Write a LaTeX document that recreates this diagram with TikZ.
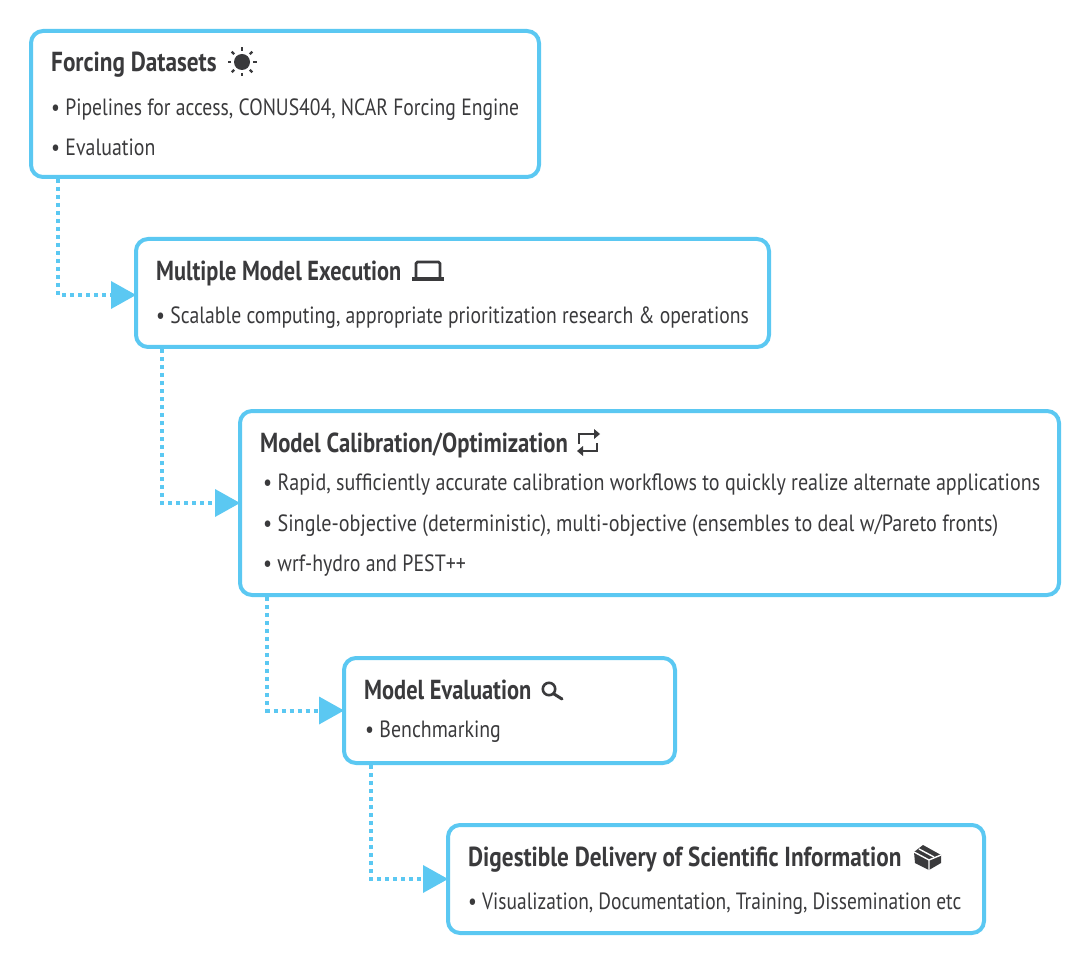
\documentclass[tikz,border=0pt]{standalone}
\usepackage{fontspec}
\setmainfont[FakeStretch=0.845]{PT Sans}
\usetikzlibrary{arrows.meta}
\definecolor{boxblue}{HTML}{5BC8F2}
\definecolor{inkgray}{HTML}{3A3A3C}
\tikzset{
    stagebox/.style={draw=boxblue, line width=4pt, rounded corners=12pt, fill=white, inner sep=0pt, anchor=north west},
    headtext/.style={anchor=base west, inner sep=0pt, text=inkgray, font=\fontsize{27.5}{30}\selectfont\bfseries},
    itemtext/.style={anchor=base west, inner sep=0pt, text=inkgray, font=\fontsize{23.5}{27}\selectfont},
    linkline/.style={draw=boxblue, line width=4pt, dash pattern=on 4pt off 4pt, -{Triangle[length=25pt,width=28pt,fill=boxblue,line width=0pt]}},
    iconline/.style={draw=inkgray, line width=2.6pt}
}

\begin{document}
\begin{tikzpicture}[x=1pt, y=-1pt]
    \useasboundingbox (0,0) rectangle (1092,965);

    % The five stages, each one stepping to the right
    \node[stagebox, minimum width=508pt, minimum height=146pt] (forcing) at (29,29) {};
    \node[stagebox, minimum width=633pt, minimum height=108pt] (execution) at (134,237) {};
    \node[stagebox, minimum width=819pt, minimum height=184pt] (calibration) at (238,409) {};
    \node[stagebox, minimum width=331pt, minimum height=105pt] (evaluation) at (342,656) {};
    \node[stagebox, minimum width=536pt, minimum height=108pt] (delivery) at (446,823) {};

    % Forcing Datasets
    \node[headtext] (forcinghead) at (51,72) {Forcing Datasets};
    \node[itemtext] (forcingone) at (51,116) {\scalebox{0.989}[1]{• Pipelines for access, CONUS404, NCAR Forcing Engine}};
    \node[itemtext] (forcingtwo) at (51,156) {• Evaluation};

    % Multiple Model Execution
    \node[headtext] (executionhead) at (156,281) {\scalebox{0.961}[1]{Multiple Model Execution}};
    \node[itemtext] (executionone) at (156,324) {\scalebox{0.991}[1]{• Scalable computing, appropriate prioritization research \& operations}};

    % Model Calibration/Optimization
    \node[headtext] (calibrationhead) at (260,452) {\scalebox{0.975}[1]{Model Calibration/Optimization}};
    \node[itemtext] (calibrationone) at (263,490) {\scalebox{1.01}[1]{• Rapid, sufficiently accurate calibration workflows to quickly realize alternate applications}};
    \node[itemtext] (calibrationtwo) at (263,531) {\scalebox{1.014}[1]{• Single-objective (deterministic), multi-objective (ensembles to deal w/Pareto fronts)}};
    \node[itemtext] (calibrationthree) at (263,571) {• wrf-hydro and PEST++};

    % Model Evaluation
    \node[headtext] (evaluationhead) at (364,699) {\scalebox{0.965}[1]{Model Evaluation}};
    \node[itemtext] (evaluationone) at (365,737) {• Benchmarking};

    % Digestible Delivery of Scientific Information
    \node[headtext] (deliveryhead) at (468,866) {Digestible Delivery of Scientific Information};
    \node[itemtext] (deliveryone) at (468,909) {\scalebox{0.98}[1]{• Visualization, Documentation, Training, Dissemination etc}};

    % Dotted links: down out of one box, right into the next
    \draw[linkline] ([xshift=29pt]forcing.south west) |- ([shift={(2pt,-2pt)}]execution.west);
    \draw[linkline] ([xshift=28pt]execution.south west) |- ([shift={(2pt,0pt)}]calibration.west);
    \draw[linkline] ([xshift=29pt]calibration.south west) |- ([shift={(2pt,0pt)}]evaluation.west);
    \draw[linkline] ([xshift=29pt]evaluation.south west) |- ([shift={(2pt,0pt)}]delivery.west);

    % Sun
    \fill[inkgray] (242,62) circle (8pt);
    \foreach \angle in {0,45,...,315}
        \draw[iconline, line width=2.4pt] (242,62) ++(\angle:11) -- ++(\angle:3.5);

    % Laptop
    \draw[iconline, rounded corners=1.5pt] (416,278) -- (416,262) -- (440,262) -- (440,278);
    \fill[inkgray] (412,277) rectangle (444,281);

    % Swap arrows
    \draw[iconline] (579,444) -- (579,434) -- (595,434);
    \fill[inkgray] (594,429) -- (600,434) -- (594,439) -- cycle;
    \draw[iconline] (597,443) -- (597,451) -- (582,451);
    \fill[inkgray] (583,446) -- (577,451) -- (583,456) -- cycle;

    % Magnifier
    \draw[iconline] (549,689) circle (6.2pt);
    \draw[iconline, line width=3pt, line cap=round] (554,694) -- (562,699);

    % Parcel
    \fill[inkgray] (923,845) -- (941,855) -- (941,863) -- (929,870) -- (915,863) -- (914,852) -- cycle;
    \draw[white, line width=1.4pt] (914,852) -- (929,860) -- (941,855) (929,860) -- (929,870);
    \draw[white, line width=1.4pt] (919,849) -- (934,857);
\end{tikzpicture}
\end{document}
